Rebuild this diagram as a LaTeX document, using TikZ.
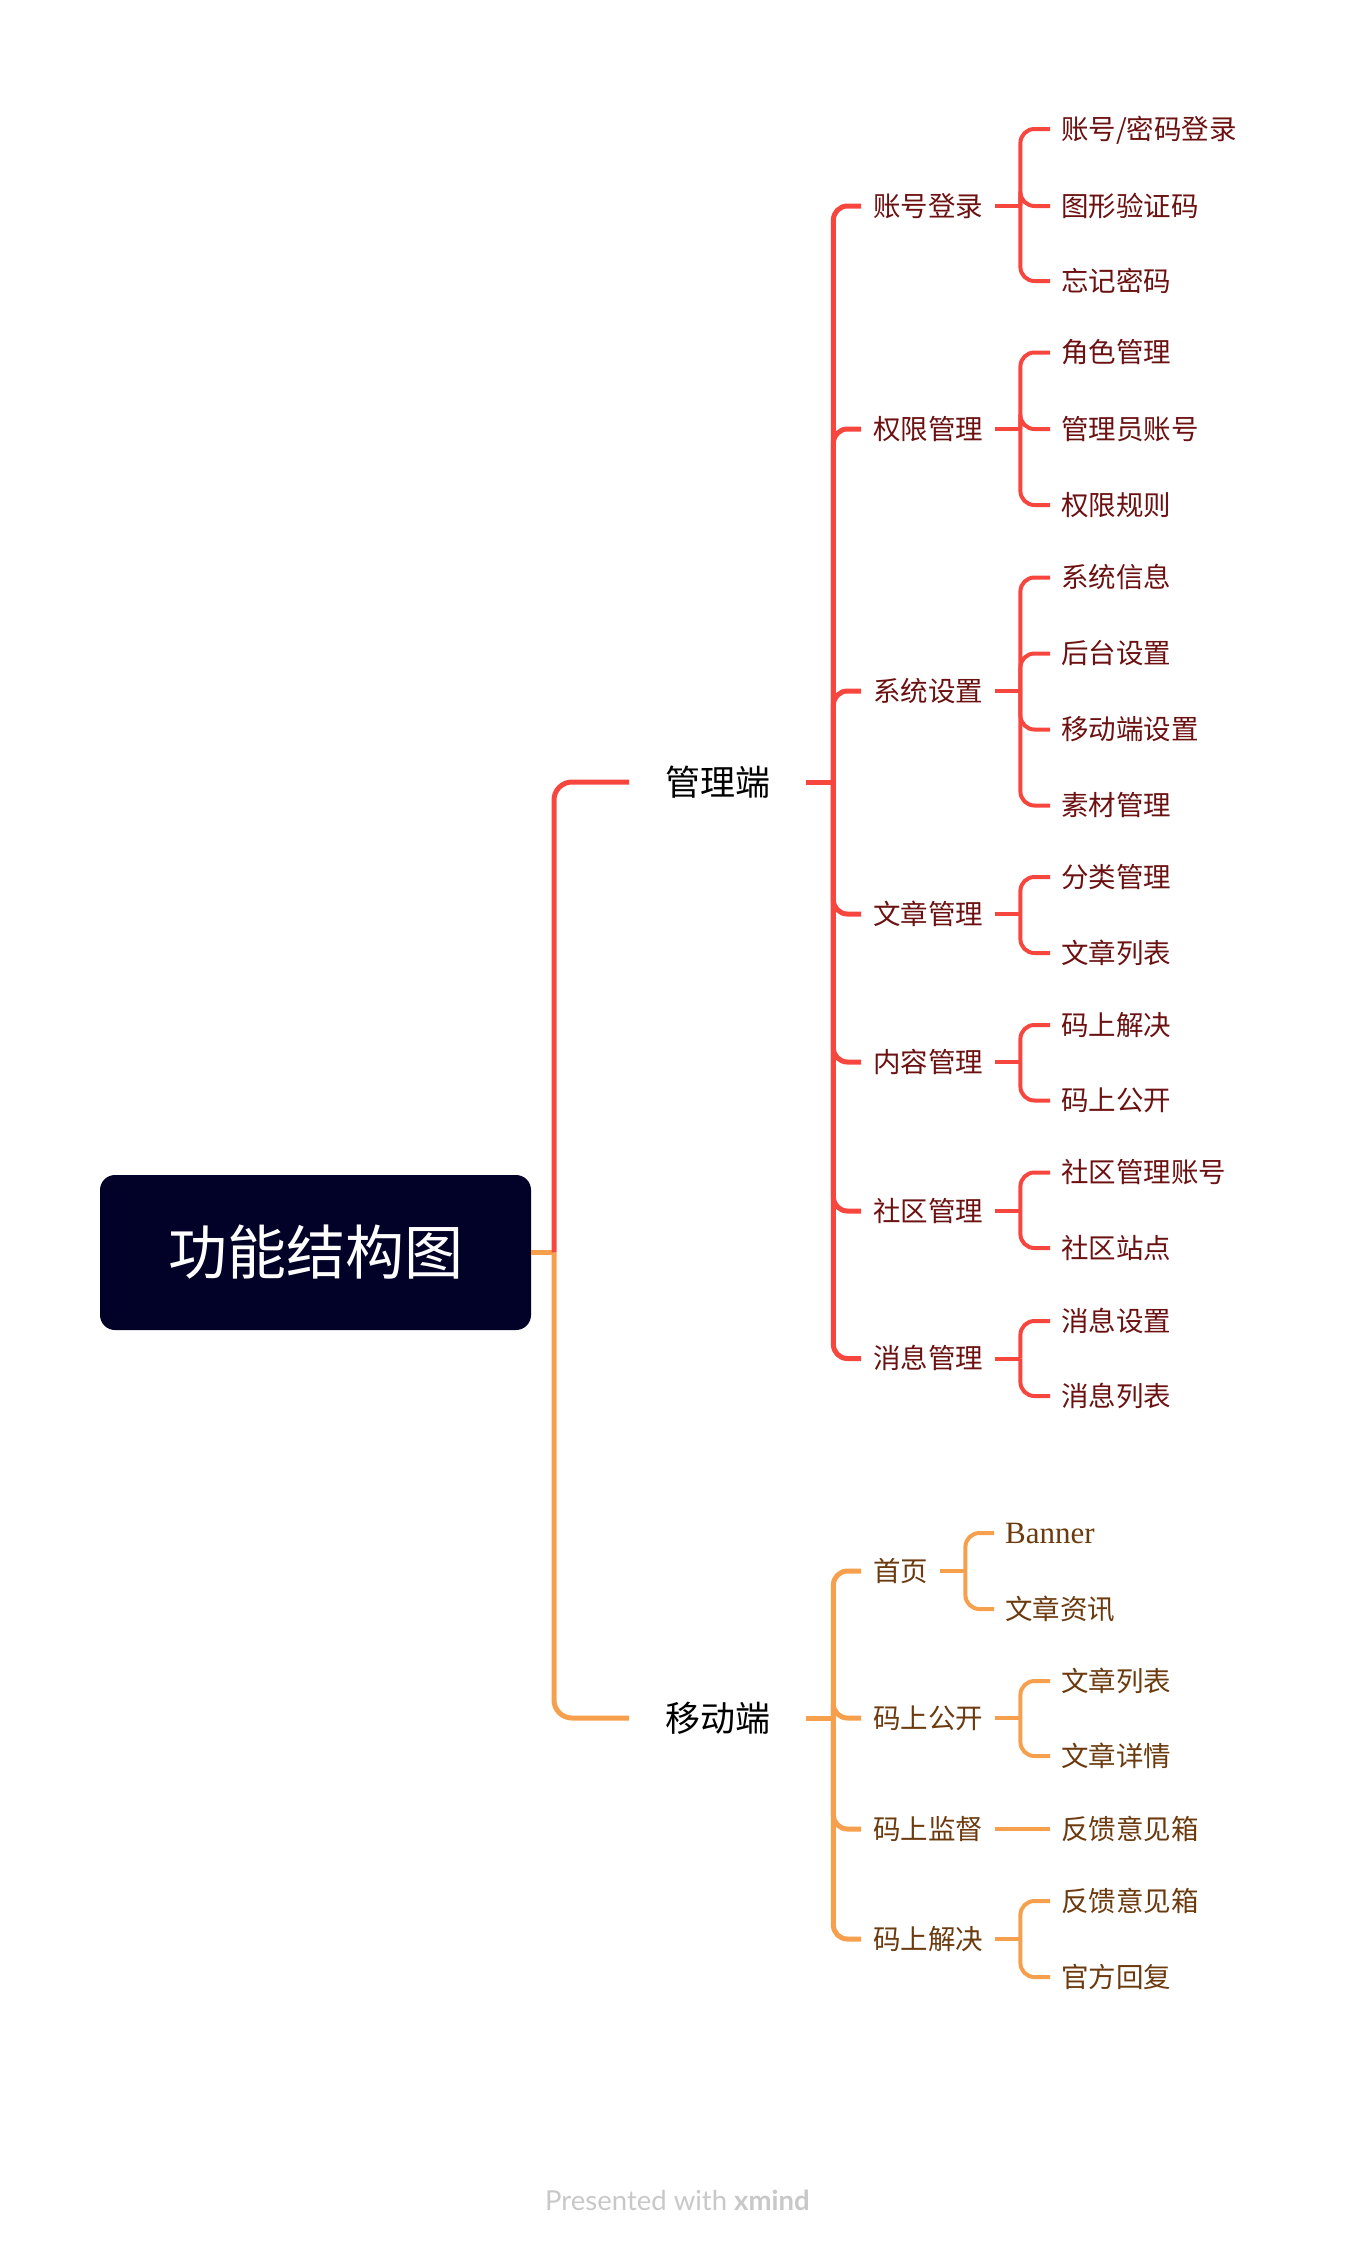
\documentclass[tikz,border=0pt]{standalone}
\usepackage{fontspec}
\setmainfont{Noto Sans CJK SC}
\newfontfamily\latinserif{Liberation Serif}
\newfontfamily\footfont{Lato}
\usetikzlibrary{calc}
\definecolor{lred}{HTML}{F7463D}
\definecolor{lorange}{HTML}{F6A04D}
\definecolor{tred}{HTML}{6C1111}
\definecolor{torange}{HTML}{6B3A0E}
\definecolor{rootc}{HTML}{020228}
\definecolor{footc}{HTML}{C8C8C8}
\tikzset{
  cjks/.style={text height=23.1pt, text depth=2.2pt},
  cjkl/.style={text height=29.4pt, text depth=2.8pt},
  rootbox/.style={fill=rootc, rounded corners=15pt, minimum width=431pt, minimum height=155pt, text=white, font=\fontsize{59}{70}\selectfont, inner sep=0pt},
  lvlone/.style={cjkl, anchor=west, inner xsep=36pt, inner ysep=0pt, font=\fontsize{35}{42}\selectfont, text=black},
  lvltwoR/.style={cjks, anchor=west, inner xsep=12pt, inner ysep=0pt, font=\fontsize{27.5}{33}\selectfont, text=tred},
  leafR/.style={cjks, anchor=west, inner xsep=11pt, inner ysep=0pt, font=\fontsize{27.5}{33}\selectfont, text=tred},
  lvltwoO/.style={cjks, anchor=west, inner xsep=12pt, inner ysep=0pt, font=\fontsize{27.5}{33}\selectfont, text=torange},
  leafO/.style={cjks, anchor=west, inner xsep=11pt, inner ysep=0pt, font=\fontsize{27.5}{33}\selectfont, text=torange},
  mainR/.style={draw=lred, line width=5pt, rounded corners=18pt, line join=round},
  mainO/.style={draw=lorange, line width=5pt, rounded corners=18pt, line join=round},
  brR/.style={draw=lred, line width=5pt, rounded corners=14pt, line join=round},
  brO/.style={draw=lorange, line width=5pt, rounded corners=14pt, line join=round},
  lfR/.style={draw=lred, line width=4pt, rounded corners=14pt, line join=round},
  lfO/.style={draw=lorange, line width=4pt, rounded corners=14pt, line join=round},
}
\begin{document}
\begin{tikzpicture}[x=1pt,y=-1pt]
\useasboundingbox (0,0) rectangle (1350,2248);
% root
\node[rootbox] (r) at (315.5,1252.5) {功能结构图};
\coordinate (j0) at (554,1252.5);
% level 1
\node[lvlone] (a) at (629,782) {管理端};
\node[lvlone] (b) at (629,1718) {移动端};
\draw[mainO] (r.east) -- (j0);
\draw[mainR] (j0) |- (a.west);
\draw[mainO] (j0) |- (b.west);
% ===== red branch level 2
\node[lvltwoR] (a1) at (861,206) {账号登录};
\node[lvltwoR] (a2) at (861,429) {权限管理};
\node[lvltwoR] (a3) at (861,691) {系统设置};
\node[lvltwoR] (a4) at (861,914) {文章管理};
\node[lvltwoR] (a5) at (861,1062) {内容管理};
\node[lvltwoR] (a6) at (861,1211) {社区管理};
\node[lvltwoR] (a7) at (861,1358.5) {消息管理};
\coordinate (ja) at ($(a.east)+(27,0)$);
\draw[brR] (a.east) -- (ja);
\foreach \c in {a1,a2,a3,a4,a5,a6,a7} {\draw[brR] (ja) |- (\c.west);}
% red leaves
\node[leafR] (a1a) at (1050,129) {账号/密码登录};
\node[leafR] (a1b) at (1050,206) {图形验证码};
\node[leafR] (a1c) at (1050,281) {忘记密码};
\node[leafR] (a2a) at (1050,352.5) {角色管理};
\node[leafR] (a2b) at (1050,429) {管理员账号};
\node[leafR] (a2c) at (1050,505) {权限规则};
\node[leafR] (a3a) at (1050,577.5) {系统信息};
\node[leafR] (a3b) at (1050,653.5) {后台设置};
\node[leafR] (a3c) at (1050,729.5) {移动端设置};
\node[leafR] (a3d) at (1050,805.5) {素材管理};
\node[leafR] (a4a) at (1050,877) {分类管理};
\node[leafR] (a4b) at (1050,953) {文章列表};
\node[leafR] (a5a) at (1050,1025) {码上解决};
\node[leafR] (a5b) at (1050,1100.5) {码上公开};
\node[leafR] (a6a) at (1050,1172.5) {社区管理账号};
\node[leafR] (a6b) at (1050,1248) {社区站点};
\node[leafR] (a7a) at (1050,1321) {消息设置};
\node[leafR] (a7b) at (1050,1396) {消息列表};
\foreach \p/\kids in {a1/{a1a,a1b,a1c}, a2/{a2a,a2b,a2c}, a3/{a3a,a3b,a3c,a3d}, a4/{a4a,a4b}, a5/{a5a,a5b}, a6/{a6a,a6b}, a7/{a7a,a7b}} {
  \coordinate (jj) at ($(\p.east)+(25,0)$);
  \draw[lfR] (\p.east) -- (jj);
  \foreach \k in \kids {\draw[lfR] (jj) |- (\k.west);}
}
% ===== orange branch level 2
\node[lvltwoO] (b1) at (861,1571) {首页};
\node[lvltwoO] (b2) at (861,1718) {码上公开};
\node[lvltwoO] (b3) at (861,1829) {码上监督};
\node[lvltwoO] (b4) at (861,1939) {码上解决};
\coordinate (jb) at ($(b.east)+(27,0)$);
\draw[brO] (b.east) -- (jb);
\foreach \c in {b1,b2,b3,b4} {\draw[brO] (jb) |- (\c.west);}
% orange leaves
\node[anchor=west, inner xsep=11pt, inner ysep=0pt, text=torange, font=\latinserif\fontsize{31}{36}\selectfont] (b1a) at (994,1533) {Banner};
\node[leafO] (b1b) at (994,1609) {文章资讯};
\node[leafO] (b2a) at (1050,1681) {文章列表};
\node[leafO] (b2b) at (1050,1756) {文章详情};
\node[leafO] (b3a) at (1050,1829) {反馈意见箱};
\node[leafO] (b4a) at (1050,1901) {反馈意见箱};
\node[leafO] (b4b) at (1050,1977) {官方回复};
\foreach \p/\kids in {b1/{b1a,b1b}, b2/{b2a,b2b}, b4/{b4a,b4b}} {
  \coordinate (jj) at ($(\p.east)+(25,0)$);
  \draw[lfO] (\p.east) -- (jj);
  \foreach \k in \kids {\draw[lfO] (jj) |- (\k.west);}
}
\draw[lfO] (b3.east) -- (b3.east -| b3a.west);
% footer
\node[anchor=west, inner sep=0pt, text=footc, font=\footfont\fontsize{27.5}{32}\selectfont] (ft) at (545,2200) {Presented with \textbf{xmind}};
\end{tikzpicture}
\end{document}
